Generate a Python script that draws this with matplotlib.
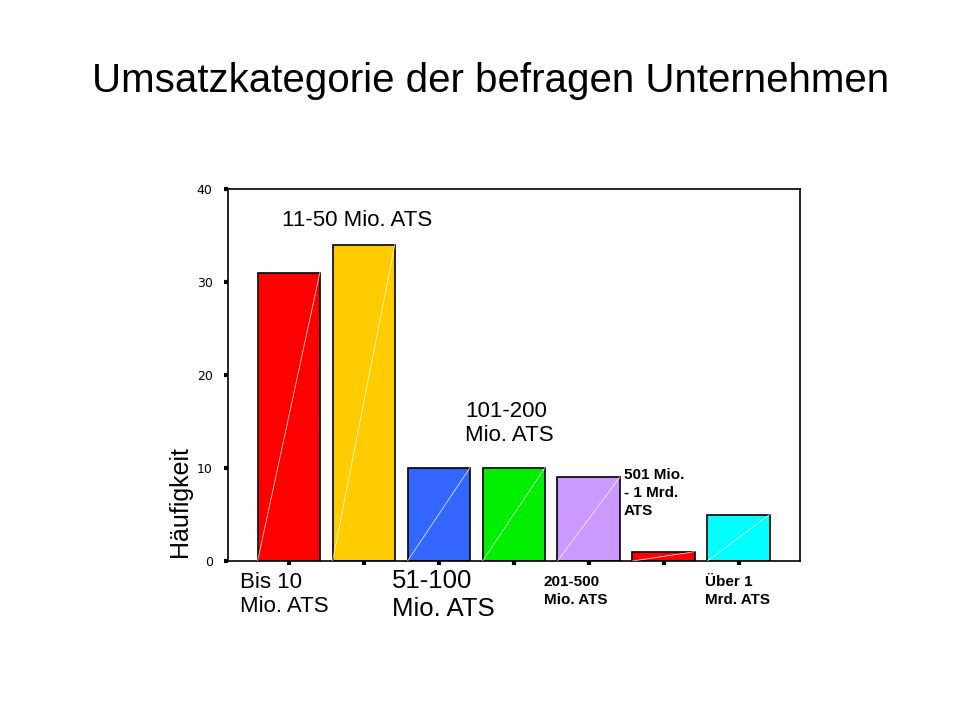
import matplotlib
matplotlib.use("Agg")
import matplotlib.pyplot as plt

categories = ["Bis 10 Mio. ATS", "11-50 Mio. ATS", "51-100 Mio. ATS", "101-200 Mio. ATS",
              "201-500 Mio. ATS", "501 Mio. - 1 Mrd. ATS", "Über 1 Mrd. ATS"]
counts = [31, 34, 10, 10, 9, 1, 5]
colors = ["#ff0000", "#ffcc00", "#3366ff", "#00ee00", "#cc99ff", "#ff0000", "#00ffff"]
yticks = [0, 10, 20, 30, 40]

W, H = 960, 720
fig = plt.figure(figsize=(9.6, 7.2), dpi=100)
ax = fig.add_axes([228 / W, 1 - 561 / H, 572 / W, 372 / H])

width = 0.83
x = list(range(len(counts)))
ax.bar(x, counts, width=width, color=colors, edgecolor="black", linewidth=1.2, zorder=2)
# thin diagonal highlight on each bar
for xi, c in zip(x, counts):
    ax.plot([xi - width / 2, xi + width / 2], [0, c], color="white", lw=0.6, alpha=0.8, zorder=3)

ax.set_xlim(-0.81, 6.82)
ax.set_ylim(0, 40)
ax.set_yticks(yticks)
ax.set_yticklabels([str(t) for t in yticks], fontsize=9)
ax.set_xticks(x)
ax.set_xticklabels([])
ax.tick_params(axis="both", length=3, width=3, direction="out", pad=8)
for s in ax.spines.values():
    s.set_linewidth(1.2)

def px(xp, yp, s, **kw):
    fig.text(xp / W, 1 - yp / H, s, va="top", ha="left", family="Liberation Sans", **kw)

px(92, 62, "Umsatzkategorie der befragen Unternehmen", fontsize=29)
px(282, 210, "11-50 Mio. ATS", fontsize=16)
px(465, 401, "101-200\nMio. ATS", fontsize=16)
px(624, 468, "501 Mio.\n- 1 Mrd.\nATS", fontsize=11, fontweight="bold", linespacing=1.35)
px(240, 572, "Bis 10\nMio. ATS", fontsize=16)
px(392, 569, "51-100\nMio. ATS", fontsize=18.5)
px(544, 575, "201-500\nMio. ATS", fontsize=11, fontweight="bold", linespacing=1.35)
px(705, 575, "Über 1\nMrd. ATS", fontsize=11, fontweight="bold", linespacing=1.35)
fig.text(180 / W, 1 - 502 / H, "Häufigkeit", rotation=90, va="center", ha="center",
         fontsize=18, family="Liberation Sans")

fig.savefig("out.png", dpi=100, facecolor="white")
